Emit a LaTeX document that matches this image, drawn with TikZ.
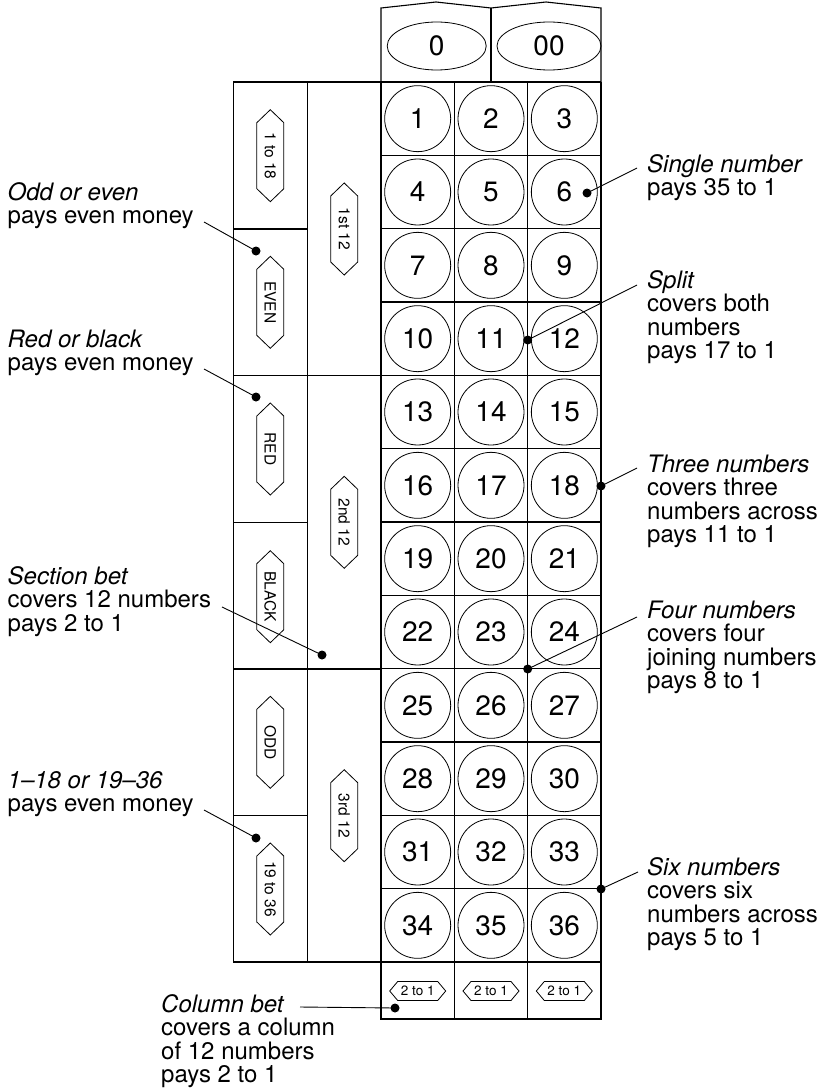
\documentclass[tikz,border=0pt]{standalone}
\usepackage{fontspec}
\setmainfont{TeX Gyre Heros}
\usetikzlibrary{shapes.geometric}
\begin{document}
\begin{tikzpicture}[x=1pt,y=-1pt,
  gridline/.style={line width=1.1pt},
  numc/.style={circle,draw,line width=0.8pt,minimum size=66pt,inner sep=0pt,font=\fontsize{28}{30}\selectfont},
  zeroell/.style={ellipse,draw,line width=0.8pt,inner sep=0pt,font=\fontsize{28}{30}\selectfont},
  hextext/.style={inner sep=0pt,font=\fontsize{15.5}{17}\selectfont},
  smalltext/.style={inner sep=0pt,font=\fontsize{13.5}{15}\selectfont},
  hexline/.style={line width=0.8pt,line join=miter},
  dotnode/.style={circle,fill=black,inner sep=0pt,minimum size=9pt},
  callline/.style={line width=0.9pt},
  calltext/.style={inner sep=0pt,anchor=base west,font=\fontsize{24}{23.6}\selectfont}
]
\useasboundingbox (0,0) rectangle (823,1089);
\newcommand\ctext[1]{\parbox[t]{230pt}{\raggedright #1}}
\newcommand\vhex[4]{%
  \node[hextext,rotate=-90] (#1) at (#2,#3) {#4};
  \draw[hexline] (#1.center) ++(0,-46) -- ++(13.5,13) -- ++(0,66) -- ++(-13.5,13) -- ++(-13.5,-13) -- ++(0,-66) -- cycle;}
\newcommand\hhex[4]{%
  \node[smalltext] (#1) at (#2,#3) {#4};
  \draw[hexline] (#1.center) ++(-28,0) -- ++(8,-9.5) -- ++(40,0) -- ++(8,9.5) -- ++(-8,9.5) -- ++(-40,0) -- cycle;}

% 0 / 00 head
\draw[gridline] (381,82) -- (381,8) -- (436,2) -- (491,8) -- (546,2) -- (601,8) -- (601,82);
\draw[gridline] (491,8) -- (491,82);
\node[zeroell,minimum width=99pt,minimum height=48pt] (z0) at (436.7,46) {0};
\node[zeroell,minimum width=104pt,minimum height=48pt] (z00) at (549,46) {00};

% main grid
\draw[gridline] (381,82) -- (381,1019) -- (601,1019) -- (601,82);
\draw[gridline] (233.3,82) -- (601,82);
\draw[gridline] (233.3,962) -- (601,962);
\foreach \k in {1,...,11} \draw[gridline] (381,{82+73.333*\k}) -- (601,{82+73.333*\k});
\draw[gridline] (454.3,82) -- (454.3,1019);
\draw[gridline] (527.7,82) -- (527.7,1019);

% left panels
\draw[gridline] (233.3,82) -- (233.3,962);
\draw[gridline] (307.3,82) -- (307.3,962);
\foreach \yy in {229,522.3,815.7} \draw[gridline] (233.3,\yy) -- (307.3,\yy);
\foreach \yy in {375.7,669} \draw[gridline] (233.3,\yy) -- (381,\yy);

% numbers
\foreach \r in {1,...,12} {
  \foreach \c in {1,2,3} {
    \pgfmathtruncatemacro\n{3*(\r-1)+\c}
    \node[numc] (n\n) at ({381+73.333*(\c-0.5)},{82+73.333*(\r-0.5)}) {\n};
  }
}

% hexagon labels
\vhex{h118}{270.3}{155.7}{1 to 18}
\vhex{heven}{270.3}{302.3}{EVEN}
\vhex{hred}{270.3}{449}{RED}
\vhex{hblack}{270.3}{596.7}{BLACK}
\vhex{hodd}{270.3}{742.3}{ODD}
\vhex{h1936}{270.3}{889}{19 to 36}
\vhex{h1st}{344.2}{229}{1st 12}
\vhex{h2nd}{344.2}{522.3}{2nd 12}
\vhex{h3rd}{344.2}{815.7}{3rd 12}
\hhex{c1}{417.7}{991}{2 to 1}
\hhex{c2}{491}{991}{2 to 1}
\hhex{c3}{564.3}{991}{2 to 1}

% callouts right
\node[dotnode] (d1) at (587,193) {};
\coordinate (e1) at (637,168);
\draw[callline] (d1.center) -- (e1);
\node[calltext] (t1) at (647,172) {\ctext{\textit{Single number}\\pays 35 to 1}};

\node[dotnode] (d2) at (527.7,340) {};
\coordinate (e2) at (637,285);
\draw[callline] (d2.center) -- (e2);
\node[calltext] (t2) at (647,288) {\ctext{\textit{Split}\\covers both\\numbers\\pays 17 to 1}};

\node[dotnode] (d3) at (601,486) {};
\coordinate (e3) at (637,468);
\draw[callline] (d3.center) -- (e3);
\node[calltext] (t3) at (647,472) {\ctext{\textit{Three numbers}\\covers three\\numbers across\\pays 11 to 1}};

\node[dotnode] (d4) at (527.7,669) {};
\coordinate (e4) at (637,617);
\draw[callline] (d4.center) -- (e4);
\node[calltext] (t4) at (647,618) {\ctext{\textit{Four numbers}\\covers four\\joining numbers\\pays 8 to 1}};

\node[dotnode] (d5) at (601,889) {};
\coordinate (e5) at (638,872);
\draw[callline] (d5.center) -- (e5);
\node[calltext] (t5) at (647,875) {\ctext{\textit{Six numbers}\\covers six\\numbers across\\pays 5 to 1}};

% callouts left
\node[dotnode] (d6) at (256,251) {};
\coordinate (e6) at (204,222);
\draw[callline] (e6) -- (d6.center);
\node[calltext] (t6) at (7.5,200) {\ctext{\textit{Odd or even}\\pays even money}};

\node[dotnode] (d7) at (256,397) {};
\coordinate (e7) at (204,369);
\draw[callline] (e7) -- (d7.center);
\node[calltext] (t7) at (7.5,347) {\ctext{\textit{Red or black}\\pays even money}};

\node[dotnode] (d8) at (322,655) {};
\coordinate (e8) at (222,607);
\draw[callline] (e8) -- (d8.center);
\node[calltext] (t8) at (7.5,584) {\ctext{\textit{Section bet}\\covers 12 numbers\\pays 2 to 1}};

\node[dotnode] (d9) at (256,838) {};
\coordinate (e9) at (204,810);
\draw[callline] (e9) -- (d9.center);
\node[calltext] (t9) at (7.5,788) {\ctext{\textit{1--18 or 19--36}\\pays even money}};

\node[dotnode] (d10) at (395,1008) {};
\coordinate (e10) at (300,1007);
\draw[callline] (e10) -- (d10.center);
\node[calltext] (t10) at (161,1012) {\ctext{\textit{Column bet}\\covers a column\\of 12 numbers\\pays 2 to 1}};
\end{tikzpicture}
\end{document}
